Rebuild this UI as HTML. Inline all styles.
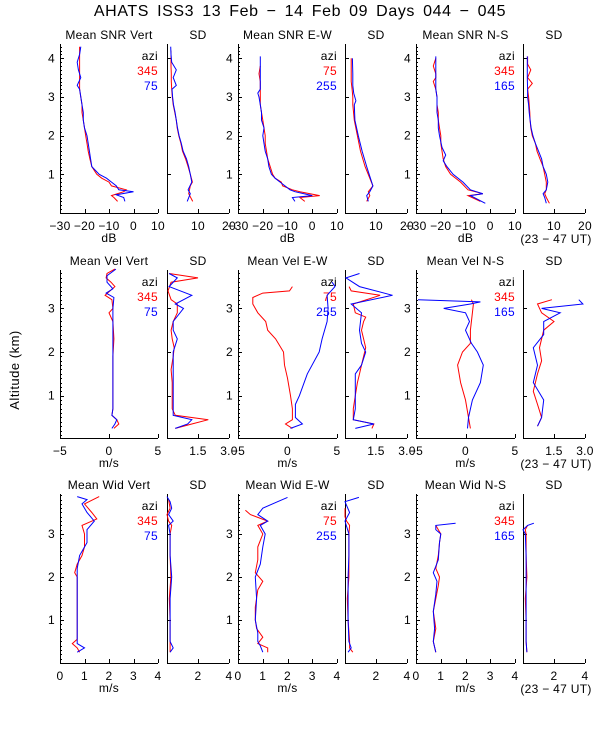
<!DOCTYPE html>
<html><head><meta charset="utf-8"><style>
body{margin:0;background:#fff}
svg{display:block}
text{font-family:"Liberation Sans",sans-serif;font-size:12px}
</style></head><body>
<svg id="c" width="600" height="750">
<text x="300" y="16" text-anchor="middle" style="font-size:16px;letter-spacing:0.6px;word-spacing:3px" fill="#000">AHATS ISS3  13 Feb − 14 Feb 09 Days 044 − 045</text>
<text transform="translate(19,370) rotate(-90)" text-anchor="middle" style="font-size:13px;letter-spacing:0.5px" fill="#000">Altitude (km)</text>
</svg>
<script>
// ---- data (altitude km, value) ----
const r1VertAltR=[0.3,0.4,0.45,0.55,0.6,0.7,0.8,0.9,1.0,1.1,1.2,1.4,1.6,1.8,2.0,2.2,2.4,2.6,2.8,3.0,3.2,3.4,3.6,3.8,4.0,4.3];
const r1VertRed=[-6.5,-8,-9,-4,-3,-9,-10,-13,-15,-16,-17,-17.8,-18.5,-19,-19.5,-20,-20.5,-21,-21,-21.5,-22,-22,-22,-22,-22,-22];
const r1VertAltB=[0.3,0.4,0.47,0.55,0.6,0.7,0.8,0.9,1.0,1.1,1.2,1.4,1.6,1.8,2.0,2.2,2.4,2.6,2.8,3.0,3.2,3.3,3.5,3.7,3.9,4.1,4.3];
const r1VertBlue=[-3.5,-4,-7,0,-6,-7,-9,-11,-14,-15.5,-17,-17.5,-18,-18.5,-19,-20,-20.5,-20.5,-21,-21.5,-22,-23,-21.5,-22.5,-23,-22,-21.5];
const r1VSdAltR=[0.3,0.5,0.7,0.8,1.0,1.2,1.4,1.6,1.8,2.0,2.2,2.4,2.6,2.8,3.0,3.2,3.4,3.6,3.8,4.0,4.2];
const r1VSdRed=[8.3,7,7.5,8.2,7.5,6.8,6,5,4.5,3.8,3.3,3,2.5,2,1.7,1.5,1.4,1.4,1.3,1.3,1.3];
const r1VSdAltB=[0.3,0.5,0.6,0.8,1.0,1.2,1.4,1.6,1.8,2.0,2.2,2.4,2.6,2.8,3.0,3.2,3.3,3.5,3.7,3.9,4.1,4.3];
const r1VSdBlue=[6.5,7.5,6.8,8,7.5,7,6.3,5.2,4.6,3.9,3.4,3,2.6,2.1,1.8,1.6,3,2,3,1.5,1.3,1.2];
const r1EwAltR=[0.3,0.4,0.45,0.55,0.6,0.7,0.8,0.9,1.0,1.2,1.4,1.6,1.8,2.0,2.2,2.4,2.6,2.8,3.0,3.2,3.4,3.6,3.8];
const r1EwRed=[-3,-5,3,-5,-8,-12,-12.5,-15,-16,-17,-18,-18.5,-19,-19,-19.5,-20,-20.5,-21,-21,-21,-21,-21.5,-21];
const r1EwAltB=[0.3,0.4,0.45,0.55,0.6,0.7,0.8,0.9,1.0,1.2,1.4,1.6,1.8,2.0,2.2,2.4,2.6,2.8,3.0,3.1,3.2,3.4,3.6,3.8,4.05];
const r1EwBlue=[-7,-8,0,-7,-9,-11,-13,-15,-16.5,-17.5,-18,-19,-19.5,-20,-19.5,-20.5,-20.5,-21,-21.5,-22,-21,-21,-21,-21,-21];
const r1ESdAltR=[0.3,0.45,0.55,0.7,0.9,1.2,1.6,2.0,2.4,2.8,3.0,3.2,3.4,3.6,3.8,4.0];
const r1ESdRed=[7,8,7.5,9,8,6.5,5,4,3,2.5,2.5,2.3,2,2,2,2];
const r1ESdAltB=[0.3,0.45,0.55,0.7,0.9,1.2,1.6,2.0,2.4,2.8,2.9,3.1,3.3,3.6,4.0];
const r1ESdBlue=[7.5,7,8,9,8.2,7,5.5,4.3,3.2,3,3.5,2.8,2.5,2.5,2.4];
const r1NsAltR=[0.3,0.45,0.5,0.6,0.8,1.0,1.2,1.4,1.6,1.8,2.0,2.2,2.4,2.6,2.8,3.0,3.2,3.4,3.5,3.6,3.8,4.0];
const r1NsRed=[-4,-9,-3,-9,-12,-16,-18,-19,-19.5,-20,-20,-20.5,-21,-21,-21.5,-21.5,-22,-23,-22,-22,-23,-22];
const r1NsAltB=[0.25,0.45,0.5,0.6,0.8,1.0,1.2,1.35,1.5,1.7,2.0,2.2,2.4,2.6,2.8,3.0,3.2,3.4,3.6,3.8,4.05];
const r1NsBlue=[-2,-8,-3,-8,-11,-15,-17.5,-19,-18,-19.5,-20.5,-21,-21,-21.5,-21.5,-21.5,-22,-22,-22,-22,-22];
const r1NSdAltR=[0.25,0.4,0.5,0.6,0.8,1.0,1.2,1.4,1.6,1.8,2.0,2.2,2.4,2.6,2.8,3.0,3.2,3.35,3.5,3.7,3.85,4.05];
const r1NSdRed=[8.5,7.5,7,7.5,7.5,7,6.5,5.5,4.5,4,3,2.5,2.3,2.2,2,1.8,1.5,3,1.5,2.5,1.5,1.5];
const r1NSdAltB=[0.25,0.4,0.5,0.6,0.8,1.0,1.2,1.4,1.6,1.8,2.0,2.2,2.4,2.6,2.8,3.0,3.2,3.5,3.8,4.05];
const r1NSdBlue=[7.5,7,6.5,7.5,8,7.5,6.5,6,5,4,3.2,2.6,2.3,2,1.8,1.5,1.5,1.4,1.4,1.4];

const r2VertAltR=[0.25,0.35,0.45,0.55,0.7,0.9,1.1,1.5,1.9,2.3,2.7,2.9,3.0,3.2,3.3,3.4,3.5,3.6,3.7,3.8,3.9];
const r2VertRed=[0.5,1.0,0.8,0.3,0.4,0.4,0.4,0.4,0.4,0.5,0.4,0.0,0.4,0.3,-0.4,0.1,0.6,0.2,-0.3,-0.2,0.6];
const r2VertAltB=[0.25,0.35,0.45,0.55,0.7,1.0,1.5,2.0,2.5,3.0,3.25,3.35,3.45,3.6,3.75,3.9];
const r2VertBlue=[0.3,0.6,0.8,0.3,0.4,0.4,0.4,0.4,0.4,0.4,0.5,-0.3,0.4,-0.2,-0.2,0.7];
const r2VSdAltR=[0.25,0.35,0.45,0.55,0.7,1.0,1.3,1.6,1.9,2.1,2.3,2.5,2.7,2.9,3.1,3.2,3.4,3.6,3.7,3.8];
const r2VSdRed=[0.4,1.2,2.0,0.4,0.25,0.25,0.25,0.2,0.3,0.35,0.25,0.2,0.3,0.5,0.5,0.2,0.05,0.2,1.5,0.1];
const r2VSdAltB=[0.25,0.35,0.45,0.55,0.7,1.0,1.5,2.0,2.3,2.5,2.7,3.0,3.1,3.3,3.5,3.7,3.8];
const r2VSdBlue=[0.4,1.0,1.2,0.3,0.3,0.3,0.3,0.3,0.5,0.3,0.3,0.8,0.4,1.2,0.1,0.5,0.1];
const r2EwAltR=[0.25,0.35,0.45,0.7,1.0,1.4,1.7,2.0,2.3,2.5,2.7,2.9,3.1,3.25,3.35,3.4,3.5];
const r2EwRed=[0.5,-0.2,0.5,0.5,0.3,0,-0.3,-0.4,-1.2,-2,-2.2,-3,-3.5,-3.5,-2.5,0.2,0.5];
const r2EwAltB=[0.25,0.35,0.5,0.8,1.0,1.5,2.0,2.3,2.7,3.0,3.3,3.5,3.6];
const r2EwBlue=[0.3,1.5,0.8,0.8,1.2,2.0,3.2,3.5,4.0,4.1,4.0,4.8,4.5];
const r2ESdAltR=[0.25,0.35,0.45,0.7,1.0,1.3,1.5,1.7,1.9,2.1,2.3,2.5,2.7,2.8,2.9,3.1,3.3,3.4,3.5];
const r2ESdRed=[1.3,1.4,0.4,0.4,0.5,0.6,0.7,0.8,0.9,1.0,0.9,0.8,0.9,1.0,0.5,0.4,1.7,0.3,0.2];
const r2ESdAltB=[0.25,0.35,0.45,0.7,1.0,1.5,1.7,2.0,2.2,2.5,2.9,3.1,3.3,3.5,3.7,3.8];
const r2ESdBlue=[0.5,1.4,0.4,0.5,0.5,0.5,0.8,1.0,0.8,0.7,0.8,0.3,2.3,0.7,0.05,0.7];
const r2NsAltR=[0.25,0.5,0.9,1.3,1.7,2.0,2.2,2.5,2.9,3.1,3.2];
const r2NsRed=[0.5,0.3,0,-0.5,-0.8,-0.3,0.5,0.5,0.7,0.8,0.6];
const r2NsAltB=[0.25,0.5,0.9,1.3,1.7,2.0,2.2,2.5,2.7,2.9,3.0,3.1,3.15,3.2];
const r2NsBlue=[0.2,0.3,0.7,1.5,1.8,1.2,0.6,0,0.4,0,-2.2,0.5,1.5,-4.8];
const r2NSdAltR=[0.3,0.5,0.8,1.1,1.5,1.8,2.1,2.5,2.7,2.9,3.1,3.2];
const r2NSdRed=[0.7,0.9,0.7,0.5,0.7,0.9,0.8,1.0,1.5,0.9,0.7,1.4];
const r2NSdAltB=[0.3,0.5,0.9,1.3,1.7,2.1,2.4,2.7,2.9,3.0,3.1,3.2];
const r2NSdBlue=[0.7,0.9,1.0,0.5,0.7,0.5,1.0,1.0,1.8,0.9,2.9,2.7];

const r3VertAltR=[0.25,0.35,0.45,0.55,0.8,1.0,1.5,2.0,2.1,2.3,2.5,2.7,3.0,3.2,3.35,3.5,3.7,3.87];
const r3VertRed=[0.8,0.7,0.5,0.7,0.7,0.7,0.7,0.7,0.6,0.7,0.9,1.0,1.0,0.9,1.5,1.3,1.0,1.6];
const r3VertAltB=[0.25,0.35,0.45,0.6,1.0,1.5,2.0,2.2,2.5,2.8,3.1,3.3,3.5,3.7,3.8,3.87];
const r3VertBlue=[0.7,1.0,0.7,0.7,0.7,0.7,0.7,0.7,0.8,1.1,1.1,1.4,1.1,0.9,1.1,0.7];
const r3VSdAltR=[0.25,0.5,1.0,1.5,2.0,2.5,3.0,3.2,3.3,3.45,3.6,3.8];
const r3VSdRed=[0.2,0.2,0.2,0.15,0.25,0.2,0.2,0.3,0.1,0.0,0.2,0.1];
const r3VSdAltB=[0.25,0.35,0.5,1.0,1.5,2.0,2.5,3.0,3.2,3.3,3.45,3.6,3.75,3.87];
const r3VSdBlue=[0.2,0.4,0.2,0.2,0.2,0.3,0.2,0.2,0.1,0.4,0.1,0.3,0.2,0.0];
const r3EwAltR=[0.25,0.35,0.45,0.6,0.8,1.0,1.3,1.7,1.9,2.1,2.4,2.7,3.0,3.2,3.3,3.45,3.55];
const r3EwRed=[1.2,1.2,0.8,1.0,0.75,0.7,0.7,0.8,1.0,0.7,0.8,0.8,1.0,0.8,1.2,0.5,0.3];
const r3EwAltB=[0.25,0.4,0.5,0.7,1.0,1.5,2.0,2.3,2.7,3.0,3.2,3.3,3.45,3.6,3.75,3.85];
const r3EwBlue=[1.0,0.9,0.8,0.8,0.7,0.75,0.7,0.9,1.0,1.1,0.9,1.2,0.8,1.0,1.6,2.0];
const r3ESdAltR=[0.25,0.35,0.5,1.0,1.5,2.0,2.5,3.0,3.2,3.3,3.4,3.6];
const r3ESdRed=[0.5,0.3,0.3,0.2,0.15,0.25,0.25,0.25,0.3,0.1,0.0,0.0];
const r3ESdAltB=[0.25,0.35,0.5,1.0,1.5,2.0,2.5,3.0,3.3,3.5,3.75,3.85];
const r3ESdBlue=[0.2,0.4,0.25,0.2,0.2,0.2,0.25,0.25,0.0,0.3,0.0,0.9];
const r3NsAltR=[0.25,0.5,0.8,1.2,1.5,1.8,2.0,2.2,2.5,2.8,3.0,3.2];
const r3NsRed=[0.8,0.7,0.8,0.7,0.8,0.9,0.95,0.8,0.9,0.95,1.0,0.8];
const r3NsAltB=[0.25,0.5,0.8,1.2,1.6,1.9,2.1,2.4,2.8,3.0,3.1,3.2,3.25];
const r3NsBlue=[0.8,0.7,0.75,0.7,0.8,0.85,0.7,0.9,0.95,1.0,0.8,0.8,1.6];
const r3NSdAltR=[0.25,0.5,1.0,1.5,2.0,2.5,3.0,3.1,3.2];
const r3NSdRed=[0.25,0.2,0.2,0.15,0.25,0.2,0.2,0.15,0.3];
const r3NSdAltB=[0.25,0.5,1.0,1.5,2.0,2.5,3.0,3.1,3.2,3.25];
const r3NSdBlue=[0.25,0.2,0.2,0.2,0.2,0.2,0.15,0.0,0.3,0.7];

const rowTitles=[["Mean SNR Vert","SD","Mean SNR E-W","SD","Mean SNR N-S","SD"],
 ["Mean Vel Vert","SD","Mean Vel E-W","SD","Mean Vel N-S","SD"],
 ["Mean Wid Vert","SD","Mean Wid E-W","SD","Mean Wid N-S","SD"]];
const legendRed=["345","75","345"];
const legendBlue=["75","255","165"];
const meanTicks=[[-30,-20,-10,0,10],[-5,0,5],[0,1,2,3,4]];
const sdTicks=[[10,20],[1.5,3.0],[2,4]];
const xUnits=["dB","m/s","m/s"];
const yTicks=[[1,2,3,4],[1,2,3],[1,2,3]];

// ---- layout ----
const cols=[[60,158],[167,229],[238,337],[345,407],[416,515],[523,585]];
const rows=[{top:44,bot:213,y0:0,y1:4.37},{top:270,bot:438,y0:0.03,y1:3.88},{top:494,bot:663,y0:0,y1:3.93}];
const meanDom=[[-30,10],[-5,5],[0,4]];
const sdDom=[[0,20],[0,3],[0,4]];
const series=[
 [[r1VertAltR,r1VertRed,r1VertAltB,r1VertBlue],[r1VSdAltR,r1VSdRed,r1VSdAltB,r1VSdBlue],[r1EwAltR,r1EwRed,r1EwAltB,r1EwBlue],[r1ESdAltR,r1ESdRed,r1ESdAltB,r1ESdBlue],[r1NsAltR,r1NsRed,r1NsAltB,r1NsBlue],[r1NSdAltR,r1NSdRed,r1NSdAltB,r1NSdBlue]],
 [[r2VertAltR,r2VertRed,r2VertAltB,r2VertBlue],[r2VSdAltR,r2VSdRed,r2VSdAltB,r2VSdBlue],[r2EwAltR,r2EwRed,r2EwAltB,r2EwBlue],[r2ESdAltR,r2ESdRed,r2ESdAltB,r2ESdBlue],[r2NsAltR,r2NsRed,r2NsAltB,r2NsBlue],[r2NSdAltR,r2NSdRed,r2NSdAltB,r2NSdBlue]],
 [[r3VertAltR,r3VertRed,r3VertAltB,r3VertBlue],[r3VSdAltR,r3VSdRed,r3VSdAltB,r3VSdBlue],[r3EwAltR,r3EwRed,r3EwAltB,r3EwBlue],[r3ESdAltR,r3ESdRed,r3ESdAltB,r3ESdBlue],[r3NsAltR,r3NsRed,r3NsAltB,r3NsBlue],[r3NSdAltR,r3NSdRed,r3NSdAltB,r3NSdBlue]]];

const svg=document.getElementById('c');
const NS='http://www.w3.org/2000/svg';
function mk(tag,attrs,parent){const e=document.createElementNS(NS,tag);for(const k in attrs)e.setAttribute(k,attrs[k]);(parent||svg).appendChild(e);return e;}
function txt(x,y,s,anchor,fill,parent){const t=mk('text',{x:x,y:y,'text-anchor':anchor||'middle'},parent);t.style.fill=fill||'#000';t.style.letterSpacing='0.3px';t.textContent=s;return t;}

for(let r=0;r<3;r++){
 const R=rows[r];
 const yS=v=>R.bot-(v-R.y0)/(R.y1-R.y0)*(R.bot-R.top);
 for(let c=0;c<6;c++){
  const [xl,xr]=cols[c];
  const isMean=c%2===0;
  const dom=isMean?meanDom[r]:sdDom[r];
  const xS=v=>xl+(v-dom[0])/(dom[1]-dom[0])*(xr-xl);
  const g=mk('g',{});
  
  
  const ttl=txt((xl+xr)/2,R.top-5,rowTitles[r][c],'middle',null,g);
  
  
  const ax=mk('path',{d:`M${xl+.5},${R.top}V${R.bot+.5}H${xr}`,stroke:'#000',fill:'none','stroke-width':1},g);
  
  
  let d='';
  for(let v=Math.ceil(R.y0*10)/10;v<=R.y1+1e-6;v+=0.1){
   const y=Math.round(yS(v))+.5;const maj=Math.abs(v-Math.round(v))<1e-6;
   if(isMean||maj) d+=`M${xl},${y}h${maj?4:2}`;
  }
  const xt=isMean?meanTicks[r]:sdTicks[r].concat([0]);
  xt.forEach(v=>{const x=Math.round(xS(v))+.5;d+=`M${x},${R.bot}v-4`;});
  mk('path',{d:d,stroke:'#000','stroke-width':1,fill:'none'},g);
  if(isMean){
   yTicks[r].forEach(v=>{const t=txt(xl-5,yS(v)+4,String(v),'end',null,g);
    
    });
  }
  const labs=isMean?meanTicks[r]:sdTicks[r];
  labs.forEach(v=>{const s=(r===1&&!isMean)?v.toFixed(1):String(v).replace('-','−');
   const t=txt(xS(v),R.bot+17,s,'middle',null,g);
   
   });
  if(isMean){
   const u=txt((xl+xr)/2,R.bot+29,xUnits[r],'middle',null,g);
   
   
   const l1=txt(xr,R.top+16,'azi','end',null,g);
   
   
   const l2=txt(xr,R.top+31,legendRed[c/2],'end','#f00',g);
   
   
   const l3=txt(xr,R.top+46,legendBlue[c/2],'end','#00f',g);
   
   
  }
  if(c===5){
   const u=txt((xl+xr)/2+2,R.bot+30,'(23 − 47 UT)','middle',null,g);
   
   
  }
  const s=series[r][c];
  [[s[0],s[1],'#f00','red'],[s[2],s[3],'#00f','blue']].forEach(([alt,val,col,nm])=>{
   const pts=alt.map((a,i)=>xS(Math.max(dom[0],Math.min(dom[1],val[i]))).toFixed(1)+','+yS(a).toFixed(1)).join(' ');
   const pl=mk('polyline',{points:pts,fill:'none',stroke:col,'stroke-width':1},g);
   
   
  });
 }
}
</script>
</body></html>
